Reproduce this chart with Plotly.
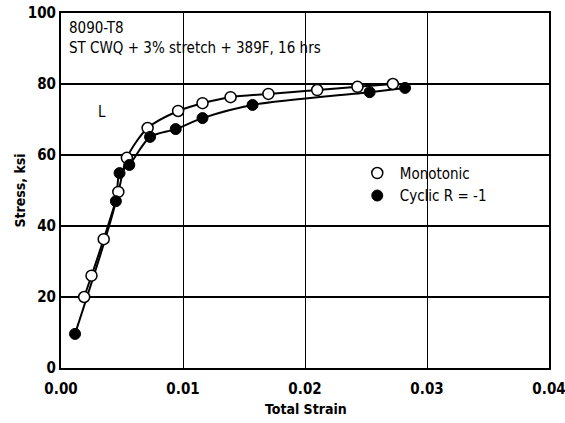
import plotly.graph_objects as go

# Stress-strain data for 8090-T8 plate, L direction
mono_strain = [0.0019, 0.0025, 0.0035, 0.0047, 0.0054, 0.0071, 0.0096, 0.0116,
               0.0139, 0.0170, 0.0210, 0.0243, 0.0272]
mono_stress = [20.0, 26.0, 36.3, 49.6, 59.2, 67.6, 72.4, 74.6,
               76.3, 77.2, 78.3, 79.2, 80.0]

cyc_strain = [0.00115, 0.0045, 0.0048, 0.0056, 0.0073, 0.0094, 0.0116,
              0.0157, 0.0253, 0.0282]
cyc_stress = [9.6, 47.0, 54.9, 57.2, 65.1, 67.3, 70.4, 74.1, 77.7, 78.9]

x_ticks = [0.00, 0.01, 0.02, 0.03, 0.04]
x_tick_text = ["0.00", "0.01", "0.02", "0.03", "0.04"]
y_ticks = [0, 20, 40, 60, 80, 100]

FONT = "DejaVu Sans Condensed, Liberation Sans Narrow, Arial Narrow, sans-serif"

fig = go.Figure()

# smooth fitted curves (no legend entry)
for xs, ys in [(mono_strain, mono_stress), (cyc_strain, cyc_stress)]:
    fig.add_trace(go.Scatter(
        x=xs, y=ys, mode="lines", showlegend=False, hoverinfo="skip",
        line=dict(color="black", width=2, shape="spline", smoothing=0.8),
    ))

# test points
fig.add_trace(go.Scatter(
    x=mono_strain, y=mono_stress, name="Monotonic", mode="markers",
    marker=dict(symbol="circle", size=11, color="white",
                line=dict(color="black", width=1.5)),
))
fig.add_trace(go.Scatter(
    x=cyc_strain, y=cyc_stress, name="Cyclic R = -1", mode="markers",
    marker=dict(symbol="circle", size=11, color="black",
                line=dict(color="black", width=1)),
))

fig.add_annotation(
    text="8090-T8<br>ST CWQ + 3% stretch + 389F, 16 hrs",
    xref="paper", yref="paper", x=0.012, y=0.99,
    xanchor="left", yanchor="top", align="left", showarrow=False,
    font=dict(family=FONT, size=15, color="black"),
)
fig.add_annotation(
    text="L", x=0.0034, y=72, showarrow=False,
    font=dict(family=FONT, size=15, color="black"),
)

# axis titles
fig.add_annotation(
    text="<b>Total Strain</b>", xref="paper", yref="paper",
    x=0.503, y=-0.115, xanchor="center", yanchor="middle", showarrow=False,
    font=dict(family=FONT, size=14, color="black"),
)
fig.add_annotation(
    text="<b>Stress, ksi</b>", xref="paper", yref="paper", textangle=-90,
    x=-0.086, y=0.50, xanchor="center", yanchor="middle", showarrow=False,
    font=dict(family=FONT, size=14, color="black"),
)

fig.update_layout(
    width=565, height=423,
    margin=dict(l=61, r=16, t=13, b=55),
    paper_bgcolor="white", plot_bgcolor="white",
    font=dict(family=FONT, color="black"),
    showlegend=True,
    legend=dict(
        x=0.602, y=0.595, xanchor="left", yanchor="top",
        bgcolor="rgba(0,0,0,0)", font=dict(family=FONT, size=15),
        itemwidth=35, tracegroupgap=0,
    ),
    xaxis=dict(
        range=[0, 0.04], tickvals=x_ticks, ticktext=x_tick_text,
        showgrid=True, gridcolor="black", gridwidth=1,
        showline=True, linecolor="black", linewidth=2, mirror=True,
        ticks="", zeroline=False, automargin=False,
        ticklabeloverflow="allow", ticklabelstandoff=6,
        tickfont=dict(family=FONT, size=15, color="black", weight="bold"),
    ),
    yaxis=dict(
        range=[0, 100], tickvals=y_ticks,
        showgrid=True, gridcolor="black", gridwidth=2,
        showline=True, linecolor="black", linewidth=2, mirror=True,
        ticks="", zeroline=False, automargin=False,
        ticklabeloverflow="allow",
        tickfont=dict(family=FONT, size=15, color="black", weight="bold"),
    ),
)

fig.write_html("out.html")
